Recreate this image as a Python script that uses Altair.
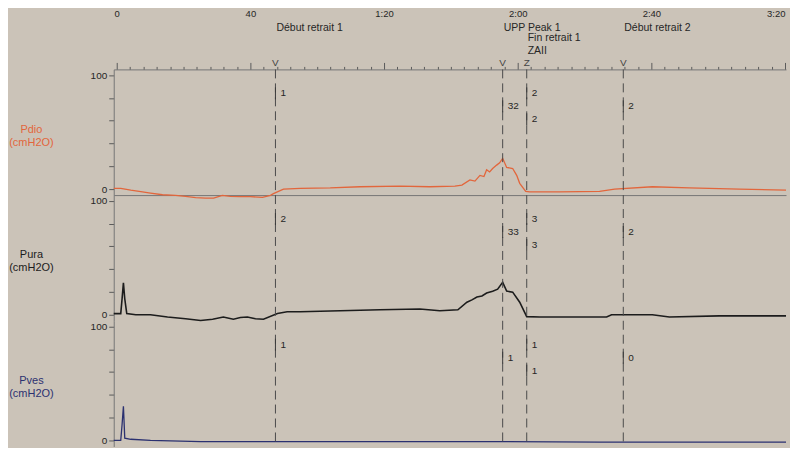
import altair as alt
import pandas as pd

# ---------------- data ----------------
# time in seconds, pressure in cmH2O
pdio_t = [-0.9, 1.2, 4.2, 7.2, 10.1, 13.7, 17.6, 20.6, 23.6, 26.6, 29.0, 31.6, 34.0, 37.0,
          40.0, 43.6, 46.0, 46.9, 49.9, 54.9, 63.9, 72.8, 84.8, 93.7, 101.2, 103.3, 105.7,
          107.2, 108.7, 109.9, 110.7, 111.6, 112.5, 113.7, 114.6, 115.5, 116.7, 118.5, 119.7,
          120.6, 122.4, 123.6, 132.5, 144.5, 149.0, 160.3, 171.3, 186.3, 200.3]
pdio_v = [0.5, 0.5, -1, -2.3, -3.5, -5, -5.5, -6.5, -7.5, -8, -8, -5.5, -6.5, -6.7,
          -6.7, -7.3, -5.5, -4, 0, 0.6, 1, 2, 2.5, 2, 2.5, 3.5, 8,
          7, 12, 11, 17, 15, 18, 21, 23, 27, 19, 18, 12,
          5, -2, -2.5, -2.5, -2, 0, 2, 1, 0, -1]

pura_t = [-0.9, 1.2, 1.6, 2.0, 2.4, 3.0, 5.7, 10.1, 15.2, 20.6, 25.1, 28.7, 31.9, 34.9,
          37.0, 39.1, 41.5, 43.9, 48.1, 51.0, 54.9, 66.9, 78.8, 90.7, 96.7, 102.1, 104.8,
          106.3, 107.8, 109.3, 110.7, 112.5, 114.0, 115.5, 116.7, 118.5, 120.6, 122.7,
          126.6, 146.6, 148.1, 160.3, 165.4, 180.3, 200.3]
pura_v = [1, 1, 14, 28, 14, 1, 0, 0, -2, -3.5, -5, -4, -2, -4,
          -2.5, -2, -3.5, -4, 1, 2.6, 2.6, 3.5, 4.3, 5, 3.5, 4.3, 11,
          13, 15.5, 16.4, 19, 20.7, 22.4, 28.4, 20.7, 19.8, 11, -1.7,
          -2, -2, 0, 0, -2, -1, -1]

pves_t = [-0.9, 1.2, 1.6, 2.0, 2.4, 4.2, 10.1, 25.1, 49.0, 84.8, 114.6, 144.5, 174.3, 200.3]
pves_v = [0, 0, 14, 30, 2, 1, 0, -1, -1, -1, -1, -1.5, -1.5, -1.5]

event_t = [47.5, 115.5, 122.7, 151.6]
event_label = ["Début retrait 1", "UPP Peak 1", "Fin retrait 1", "Début retrait 2"]
event_row = [0, 0, 1, 0]
event_glyph = ["V", "V", "Z", "V"]
extra_label = "ZAII"

time_ticks = list(range(0, 201, 4))
y_ticks = [0, 20, 40, 60, 80, 100]

pdio_marks = ["1", "32", "2", "2"]
pura_marks = ["2", "33", "3", "2"]
pves_marks = ["1", "1", "1", "0"]
fin_lower = {"Pdio": "2", "Pura": "3", "Pves": "1"}
mark_slot = [0, 1, 0, 1]

# ---------------- layout / style ----------------
XDOM = [-0.9, 200.3]
YDOM = [-5.3, 105]
W, H = 674, 126
SLOT_Y = [24, 37, 50]
ROW_Y = [-42, -31, -18]
FONT = "Liberation Sans"
INK = "#262626"
AXC = "#767676"


def xenc(axis=None):
    return alt.X("t:Q", scale=alt.Scale(domain=XDOM, nice=False, zero=False), axis=axis)


bottom_axis = alt.Axis(orient="bottom", labels=False, ticks=False, domain=True,
                       domainColor=AXC, title=None, grid=False)

top_axis = alt.Axis(
    orient="top", values=time_ticks, title=None, grid=False,
    labelExpr="datum.value % 40 != 0 ? '' : (datum.value < 60 ? format(datum.value, 'd') : "
              "format(floor(datum.value / 60), 'd') + ':' + format(datum.value % 60, '02d'))",
    tickSize={"condition": {"test": "datum.value % 40 === 0", "value": 7}, "value": 3},
    labelAlign={"condition": {"test": "datum.value >= 200", "value": "right"}, "value": "center"},
    tickColor="#5a5a5a", domainColor=AXC, labelPadding=44, labelFontSize=9.5,
    labelColor=INK, labelFlush=False, labelOverlap=False,
)


def yaxis(title, color):
    return alt.Axis(
        values=y_ticks, labelExpr="datum.value == 0 || datum.value == 100 ? datum.label : ''",
        tickSize=5, tickColor="#5a5a5a", domainColor=AXC, labelFontSize=10, labelColor=INK,
        labelPadding=2, labelOverlap=False, grid=False,
        title=title, titleAngle=0, titleX=-83, titleY=60, titleAlign="center",
        titleBaseline="middle", titleColor=color, titleFontSize=11, titleFontWeight="normal",
    )


def panel(name, t, v, color, sw, marks, top=False):
    df = pd.DataFrame({"t": t, "v": v})
    line = alt.Chart(df).mark_line(color=color, strokeWidth=sw, clip=False).encode(
        x=xenc(bottom_axis),
        y=alt.Y("v:Q", scale=alt.Scale(domain=YDOM, nice=False, zero=False),
                axis=yaxis([name, "(cmH2O)"], color)),
    )
    ev = pd.DataFrame({"t": event_t})
    rules = alt.Chart(ev).mark_rule(color="#4a4a4a", strokeDash=[9, 5], strokeWidth=1).encode(
        x=xenc())
    ann = pd.DataFrame({"t": event_t + [event_t[2]], "txt": marks + [fin_lower[name]],
                        "slot": mark_slot + [2]})
    layers = [line, rules]
    for s, py in enumerate(SLOT_Y):
        base = alt.Chart(ann).transform_filter(alt.datum.slot == s)
        layers.append(base.mark_rule(color="#3a3a3a", strokeWidth=1).encode(
            x=xenc(), y=alt.value(py - 6), y2=alt.value(py + 6)))
        layers.append(base.mark_text(align="left", dx=5, baseline="middle", fontSize=10,
                                     color=INK).encode(x=xenc(), y=alt.value(py), text="txt:N"))
    if top:
        evdf = pd.DataFrame({"t": event_t + [event_t[2]], "lab": event_label + [extra_label],
                             "row": event_row + [2]})
        for r, py in enumerate(ROW_Y):
            layers.append(
                alt.Chart(evdf).transform_filter(alt.datum.row == r)
                .mark_text(align="left", dx=1, baseline="middle", fontSize=10.5, color=INK)
                .encode(x=xenc(top_axis if r == 0 else None), y=alt.value(py), text="lab:N"))
        gl = pd.DataFrame({"t": event_t, "g": event_glyph})
        layers.append(alt.Chart(gl).mark_text(baseline="middle", fontSize=10, color="#444")
                      .encode(x=xenc(), y=alt.value(-6), text="g:N"))
    ch = alt.layer(*layers).properties(width=W, height=H)
    if top:
        ch = ch.resolve_axis(x="independent")
    return ch


p1 = panel("Pdio", pdio_t, pdio_v, "#e2663c", 1.3, pdio_marks, top=True)
p2 = panel("Pura", pura_t, pura_v, "#1c1c1c", 1.6, pura_marks)
p3 = panel("Pves", pves_t, pves_v, "#2b3170", 1.3, pves_marks)

chart = (
    alt.vconcat(p1, p2, p3, spacing=0, bounds="flush")
    .properties(background="#cbc3b8", padding=0)
    .configure_view(stroke=None)
    .configure_axis(labelFont=FONT, titleFont=FONT)
    .configure_text(font=FONT)
)

chart.save("out.html", embed_options={"renderer": "svg", "actions": False})
